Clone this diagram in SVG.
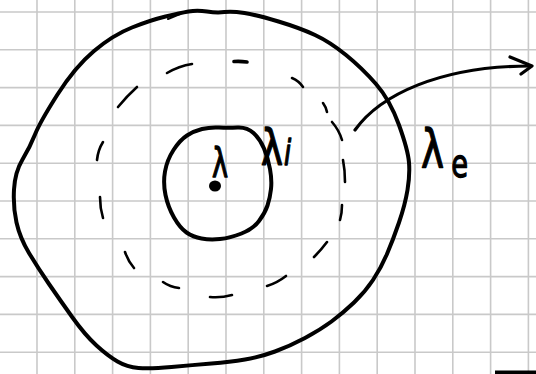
<svg xmlns="http://www.w3.org/2000/svg" width="536" height="374" viewBox="0 0 536 374">
<style>
.grid line{stroke:#c9c9c9;stroke-width:1.6}
.ink{fill:none;stroke:#000;stroke-linecap:round;stroke-linejoin:round}
.thick{stroke-width:4}
.dash{stroke-width:2.6}
.lbl{font-family:"DejaVu Sans",sans-serif;fill:#000;stroke:#000;stroke-width:1.3;stroke-linejoin:round}
</style>
<rect width="536" height="374" fill="#fff"/>
<g class="grid" id="grid">
<line x1="37" y1="0" x2="37" y2="374"/><line x1="74.8" y1="0" x2="74.8" y2="374"/><line x1="112.6" y1="0" x2="112.6" y2="374"/><line x1="150.4" y1="0" x2="150.4" y2="374"/><line x1="188.2" y1="0" x2="188.2" y2="374"/><line x1="226" y1="0" x2="226" y2="374"/><line x1="263.8" y1="0" x2="263.8" y2="374"/><line x1="301.6" y1="0" x2="301.6" y2="374"/><line x1="339.4" y1="0" x2="339.4" y2="374"/><line x1="377.2" y1="0" x2="377.2" y2="374"/><line x1="415" y1="0" x2="415" y2="374"/><line x1="452.8" y1="0" x2="452.8" y2="374"/><line x1="490.6" y1="0" x2="490.6" y2="374"/><line x1="528.4" y1="0" x2="528.4" y2="374"/>
<line x1="0" y1="12" x2="536" y2="12"/><line x1="0" y1="49.8" x2="536" y2="49.8"/><line x1="0" y1="87.6" x2="536" y2="87.6"/><line x1="0" y1="125.4" x2="536" y2="125.4"/><line x1="0" y1="163.2" x2="536" y2="163.2"/><line x1="0" y1="201" x2="536" y2="201"/><line x1="0" y1="238.8" x2="536" y2="238.8"/><line x1="0" y1="276.6" x2="536" y2="276.6"/><line x1="0" y1="314.4" x2="536" y2="314.4"/><line x1="0" y1="352.2" x2="536" y2="352.2"/>
</g>
<g id="outer">
<path class="ink thick" d="M 165.5 16.5 Q 180 13 188.5 11.5 Q 197 10 207 11.5 Q 217 13 224.5 12 Q 232 11 244.5 13 Q 257 15 278.5 21.5 Q 300 28 315 35 Q 330 42 346 55 Q 362 68 376 84 Q 390 100 399 125 Q 408 150 409 162.5 Q 410 175 407.5 190 Q 405 205 399 222.5 Q 393 240 387 254 Q 381 268 373 280 Q 365 292 354 302.5 Q 343 313 331.5 321.5 Q 320 330 305 338 Q 290 346 275 351.5 Q 260 357 245 359.5 Q 230 362 211.5 363.5 Q 193 365 171.5 367 Q 150 369 138.5 368 Q 127 367 117.5 361.5 Q 108 356 96.5 345.5 Q 85 335 72.5 317.5 Q 60 300 49 284 Q 38 268 29 253 Q 20 238 16.5 222.5 Q 13 207 14 189.5 Q 15 172 22.5 159.5 Q 30 147 35 134.5 Q 40 122 57.5 94.5 Q 75 67 94 51 Q 113 35 132 27.5 Q 151 20 165.5 16.5"/>
<path class="ink" stroke-width="2" d="M 168 19 L 180 14"/>
</g>
<g id="dashed">
<path class="ink dash" d="M167 73 Q179 66 192 64"/>
<path class="ink" stroke-width="3.6" d="M234 61.5 Q240 61 247 62"/>
<path class="ink dash" d="M292 78 Q299 81 303 87"/>
<path class="ink dash" d="M323 103 Q326 107 327 112"/>
<path class="ink dash" d="M332 122 Q339 130 342 140"/>
<path class="ink dash" d="M343 160 Q345 170 345 182"/>
<path class="ink dash" d="M342 205 Q342 213 340 220"/>
<path class="ink dash" d="M327 242 Q321 250 314 257"/>
<path class="ink dash" d="M286 276 Q277 283 267 286"/>
<path class="ink dash" d="M232 295 Q221 298 210 297"/>
<path class="ink dash" d="M179 288 Q170 287 163 282"/>
<path class="ink dash" d="M134 268 Q128 261 125 252"/>
<path class="ink dash" d="M103 218 Q100 208 100 197"/>
<path class="ink dash" d="M97 160 Q98 150 103 142"/>
<path class="ink dash" d="M118 107 Q127 96 137 87"/>
</g>
<g id="inner">
<path class="ink thick" d="M 202 129 Q 210 127 219 127.5 Q 228 128 237.5 127.5 Q 247 127 253.5 133 Q 260 139 264 148.5 Q 268 158 270 169 Q 272 180 271 189 Q 270 198 267.5 205.5 Q 265 213 259 221 Q 253 229 241.5 233.5 Q 230 238 220 239 Q 210 240 201.5 238.5 Q 193 237 186.5 232.5 Q 180 228 174 217.5 Q 168 207 165.5 195 Q 163 183 165 171.5 Q 167 160 173.5 150 Q 180 140 187 135.5 Q 194 131 202 129 Z"/>
<ellipse cx="215" cy="186" rx="6" ry="5.5" fill="#000"/>
<text class="lbl" transform="translate(212,177) scale(0.68,1)" font-size="40">λ</text>
</g>
<g id="labels">
<text class="lbl" transform="translate(261,165) scale(0.74,1)"><tspan x="0" font-size="50">λ</tspan><tspan x="31" font-size="35" font-style="italic">i</tspan></text>
<text class="lbl" transform="translate(421,168) scale(0.72,1)"><tspan x="0" font-size="54">λ</tspan><tspan x="42" y="9" font-size="38">e</tspan></text>
</g>
<g id="connectors">
<path class="ink" stroke-width="3.2" d="M 355 130 C 380 95 440 66 530 66"/>
<polyline class="ink" stroke-width="3.2" points="510,57 532,66 521,74"/>
</g>
<rect x="495" y="370.5" width="41" height="4" fill="#000"/>
</svg>
